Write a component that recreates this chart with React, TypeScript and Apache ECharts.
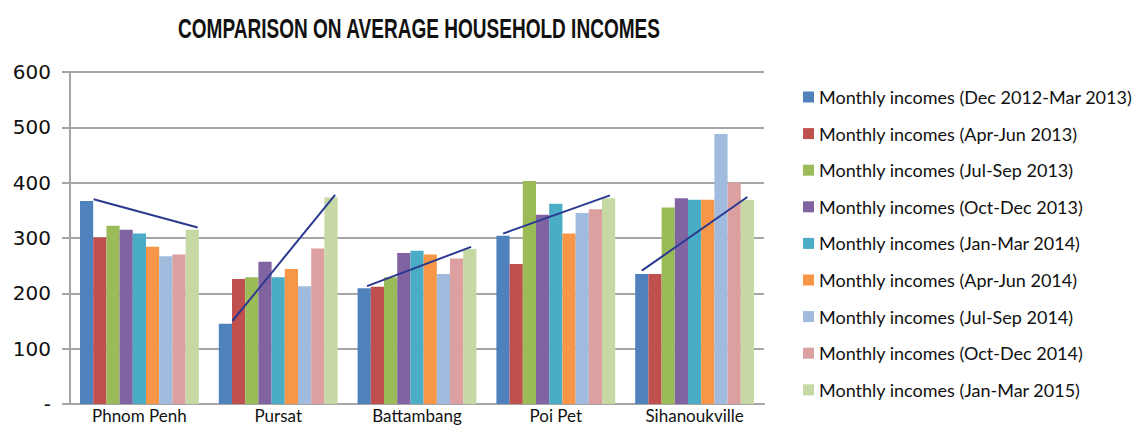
import React, { useEffect, useRef } from "react";
import * as echarts from "echarts";

const categories = ["Phnom Penh", "Pursat", "Battambang", "Poi Pet", "Sihanoukville"];

const seriesNames = [
  "Monthly incomes (Dec 2012-Mar 2013)",
  "Monthly incomes (Apr-Jun 2013)",
  "Monthly incomes (Jul-Sep 2013)",
  "Monthly incomes (Oct-Dec 2013)",
  "Monthly incomes (Jan-Mar 2014)",
  "Monthly incomes (Apr-Jun 2014)",
  "Monthly incomes (Jul-Sep 2014)",
  "Monthly incomes (Oct-Dec 2014)",
  "Monthly incomes (Jan-Mar 2015)",
];

const decMar2013 = [367, 145, 209, 304, 235];
const aprJun2013 = [301, 226, 212, 253, 235];
const julSep2013 = [322, 229, 229, 403, 355];
const octDec2013 = [315, 257, 273, 342, 372];
const janMar2014 = [308, 229, 277, 362, 369];
const aprJun2014 = [284, 244, 270, 308, 369];
const julSep2014 = [267, 213, 235, 345, 488];
const octDec2014 = [270, 281, 263, 352, 400];
const janMar2015 = [315, 373, 280, 372, 369];

const seriesValues = [
  decMar2013, aprJun2013, julSep2013, octDec2013, janMar2014,
  aprJun2014, julSep2014, octDec2014, janMar2015,
];

const colors = [
  "#4F81BD", "#C0504D", "#9BBB59", "#8064A2", "#4BACC6",
  "#F79646", "#A0BBDD", "#DDA0A0", "#C6D8A4",
];

// trend line endpoints per city: position within category axis (0..5) and value
const trendStartX = [0.17, 1.17, 2.14, 3.12, 4.12];
const trendStartY = [370, 150, 213, 308, 241];
const trendEndX = [0.92, 1.91, 2.89, 3.89, 4.88];
const trendEndY = [319, 378, 284, 377, 374];

const yTicks = [0, 100, 200, 300, 400, 500, 600];

const titleText = "COMPARISON ON AVERAGE HOUSEHOLD INCOMES";

export default function App() {
  const ref = useRef<HTMLDivElement>(null);
  useEffect(() => {
    if (!ref.current) return;
    const chart = echarts.init(ref.current, undefined, { renderer: "svg" });
    const labelFont = "Lato, 'Open Sans', sans-serif";
    const bars = seriesNames.map((name, i) => ({
      name,
      type: "bar",
      xAxisIndex: 0,
      yAxisIndex: 0,
      data: seriesValues[i],
      itemStyle: { color: colors[i] },
      barGap: "0%",
      barCategoryGap: "14.4%",
    }));
    const trends = categories.map((c, i) => ({
      name: "trend-" + c,
      type: "line",
      xAxisIndex: 1,
      yAxisIndex: 0,
      data: [
        [trendStartX[i], trendStartY[i]],
        [trendEndX[i], trendEndY[i]],
      ],
      symbol: "none",
      lineStyle: { color: "#2B3990", width: 2 },
      z: 5,
    }));
    chart.setOption({
      animation: false,
      graphic: [
        {
          type: "text",
          x: 419,
          y: 28,
          scaleX: 0.68,
          style: {
            text: titleText,
            font: "bold 28px 'Liberation Sans', Arial, sans-serif",
            fill: "#111",
            textAlign: "center",
            textVerticalAlign: "middle",
          },
        },
      ],
      legend: {
        data: seriesNames,
        orient: "vertical",
        left: 803,
        top: 88,
        padding: 0,
        icon: "rect",
        itemWidth: 11,
        itemHeight: 11,
        itemGap: 18.6,
        textStyle: {
          fontFamily: labelFont,
          fontSize: 18,
          lineHeight: 18,
          color: "#111",
        },
      },
      grid: { left: 70, right: 373, top: 72, bottom: 23, containLabel: false },
      xAxis: [
        {
          type: "category",
          data: categories,
          axisLine: { show: true, lineStyle: { color: "#A6A6A6", width: 2 } },
          axisTick: { show: false },
          axisLabel: {
            fontFamily: labelFont,
            fontSize: 17,
            lineHeight: 17,
            color: "#111",
            margin: 3,
          },
        },
        {
          type: "value",
          min: 0,
          max: categories.length,
          show: false,
        },
      ],
      yAxis: {
        type: "value",
        min: yTicks[0],
        max: yTicks[yTicks.length - 1],
        interval: 100,
        axisLine: { show: true, lineStyle: { color: "#A6A6A6", width: 2 } },
        axisTick: { show: true, length: 8, lineStyle: { color: "#A6A6A6", width: 2 } },
        splitLine: { show: true, lineStyle: { color: "#A6A6A6", width: 2 } },
        axisLabel: {
          fontFamily: "'DejaVu Sans', sans-serif",
          fontSize: 20,
          color: "#111",
          margin: 19,
          formatter: (v: number) => (v === 0 ? "-" : String(v)),
        },
      },
      series: [...bars, ...trends],
    });
    return () => chart.dispose();
  }, []);
  return (
    <div
      ref={ref}
      style={{ position: "fixed", left: 0, top: 0, width: 1137, height: 427, background: "#fff" }}
    />
  );
}
